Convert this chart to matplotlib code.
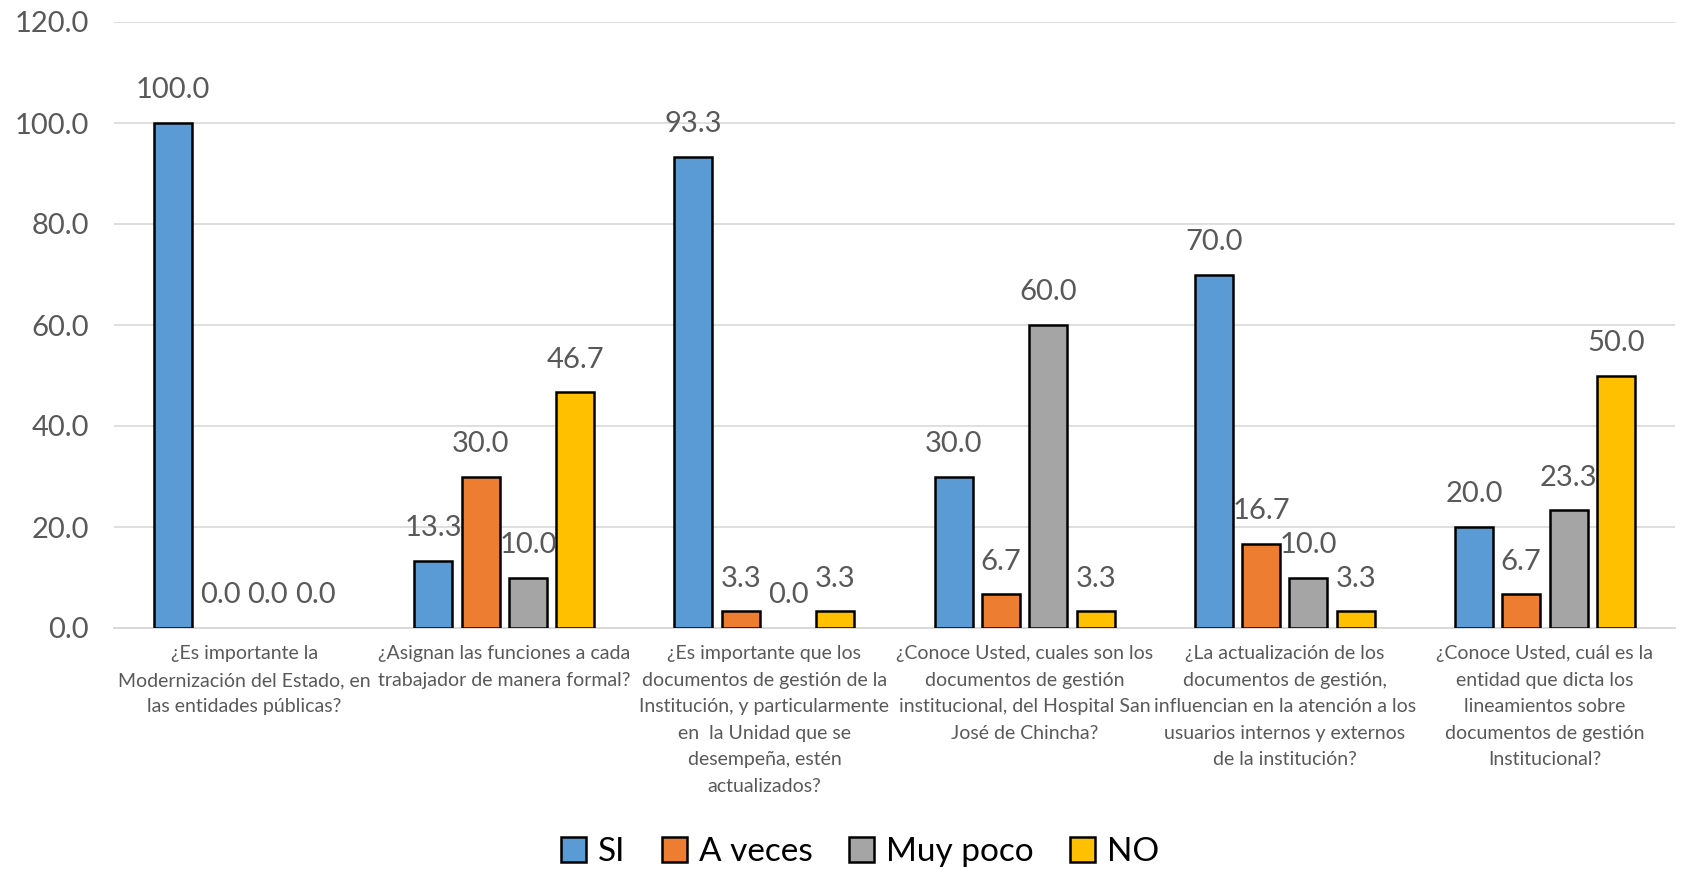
import matplotlib
matplotlib.use("Agg")
import matplotlib.pyplot as plt
from matplotlib.patches import Patch
import numpy as np

plt.rcParams['font.family'] = ['Lato', 'DejaVu Sans']

# Survey questions (category labels, with their line breaks)
categories = [
    "¿Es importante la\nModernización del Estado, en\nlas entidades públicas?",
    "¿Asignan las funciones a cada\ntrabajador de manera formal?",
    "¿Es importante que los\ndocumentos de gestión de la\nInstitución, y particularmente\nen  la Unidad que se\ndesempeña, estén\nactualizados?",
    "¿Conoce Usted, cuales son los\ndocumentos de gestión\ninstitucional, del Hospital San\nJosé de Chincha?",
    "¿La actualización de los\ndocumentos de gestión,\ninfluencian en la atención a los\nusuarios internos y externos\nde la institución?",
    "¿Conoce Usted, cuál es la\nentidad que dicta los\nlineamientos sobre\ndocumentos de gestión\nInstitucional?",
]

series_names = ["SI", "A veces", "Muy poco", "NO"]
si = [100.0, 13.3, 93.3, 30.0, 70.0, 20.0]
a_veces = [0.0, 30.0, 3.3, 6.7, 16.7, 6.7]
muy_poco = [0.0, 10.0, 0.0, 60.0, 10.0, 23.3]
no = [0.0, 46.7, 3.3, 3.3, 3.3, 50.0]

y_ticks = [0, 20, 40, 60, 80, 100, 120]

colors = ["#5B9BD5", "#ED7D31", "#A5A5A5", "#FFC000"]
text_color = "#595959"
grid_color = "#D9D9D9"

fig = plt.figure(figsize=(16.85, 8.69), dpi=100)
ax = fig.add_axes([114 / 1685, 1 - 628 / 869, (1675 - 114) / 1685, (628 - 22) / 869])

x = np.arange(len(categories))
bar_w = 0.146
step = 0.182
all_series = [si, a_veces, muy_poco, no]

for i, (vals, col) in enumerate(zip(all_series, colors)):
    vals = np.asarray(vals)
    pos = x + (i - 1.5) * step
    lws = np.where(vals > 0, 1.8, 0.0)
    ax.bar(pos, vals, width=bar_w, color=col, edgecolor="black",
           linewidth=lws, zorder=3)
    for px, v in zip(pos, vals):
        ax.annotate(f"{v:.1f}", xy=(px, v), xytext=(0, 23.5),
                    textcoords="offset points", ha="center", va="center",
                    fontsize=21, color=text_color, zorder=4)

ax.set_xlim(-0.5, len(categories) - 0.5)
ax.set_ylim(0, 120)
ax.set_yticks(y_ticks)
ax.set_yticklabels([f"{t:.1f}" for t in y_ticks], fontsize=21, color=text_color)
ax.yaxis.grid(True, color=grid_color, linewidth=1.2, zorder=0)
ax.set_axisbelow(True)

ax.set_xticks(x)
ax.set_xticklabels(categories, fontsize=14, color=text_color,
                   linespacing=1.68, ha="center", va="top")
ax.tick_params(axis="both", length=0)
ax.tick_params(axis="x", pad=12.5)
ax.tick_params(axis="y", pad=18)

for side in ("top", "right", "left"):
    ax.spines[side].set_visible(False)
ax.spines["bottom"].set_color(grid_color)
ax.spines["bottom"].set_linewidth(1.4)

handles = [Patch(facecolor=c, edgecolor="black", linewidth=1.8, label=n)
           for c, n in zip(colors, series_names)]
fig.legend(handles=handles, loc="center", bbox_to_anchor=(860 / 1685, 1 - 852 / 869),
           ncol=4, frameon=False, fontsize=24, labelcolor="black",
           handlelength=0.75, handleheight=0.75, handletextpad=0.35,
           columnspacing=1.1)

fig.savefig("out.png", dpi=100)
